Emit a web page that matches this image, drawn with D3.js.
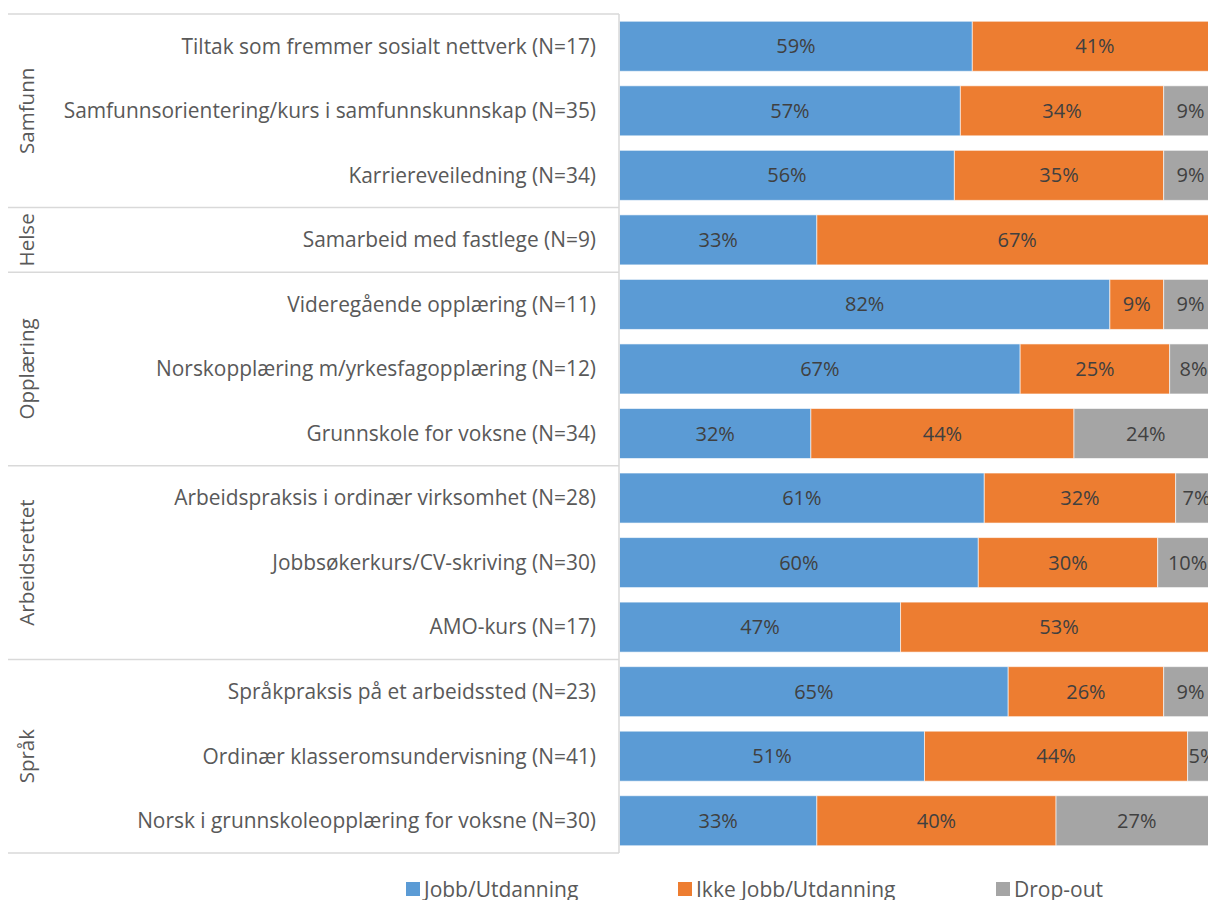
<!DOCTYPE html>
<html>
<head>
<meta charset="utf-8">
<script src="https://cdn.jsdelivr.net/npm/d3@7"></script>
<style>
  html, body { margin: 0; padding: 0; background: #fff; }
  svg { display: block; font-family: "Open Sans", "Noto Sans", sans-serif; }
</style>
</head>
<body>
<svg id="chart" width="1208" height="900"></svg>
<script>
const categories = [
  "Tiltak som fremmer sosialt nettverk (N=17)",
  "Samfunnsorientering/kurs i samfunnskunnskap (N=35)",
  "Karriereveiledning (N=34)",
  "Samarbeid med fastlege (N=9)",
  "Videregående opplæring (N=11)",
  "Norskopplæring m/yrkesfagopplæring (N=12)",
  "Grunnskole for voksne (N=34)",
  "Arbeidspraksis i ordinær virksomhet (N=28)",
  "Jobbsøkerkurs/CV-skriving (N=30)",
  "AMO-kurs (N=17)",
  "Språkpraksis på et arbeidssted (N=23)",
  "Ordinær klasseromsundervisning (N=41)",
  "Norsk i grunnskoleopplæring for voksne (N=30)"
];
const groups = ["Samfunn", "Helse", "Opplæring", "Arbeidsrettet", "Språk"];
const groupSizes = [3, 1, 3, 3, 3];
const seriesNames = ["Jobb/Utdanning", "Ikke Jobb/Utdanning", "Drop-out"];
const jobb =     [59, 57, 56, 33, 82, 67, 32, 61, 60, 47, 65, 51, 33];
const ikkeJobb = [41, 34, 35, 67,  9, 25, 44, 32, 30, 53, 26, 44, 40];
const dropOut =  [ 0,  9,  9,  0,  9,  8, 24,  7, 10,  0,  9,  5, 27];
const colors = ["#5B9BD5", "#ED7D31", "#A5A5A5"];

(function () {
const svg = d3.select("#chart");
const plotTop = 14, plotBottom = 853, plotLeft = 619;
const y = d3.scaleBand().domain(categories).range([plotTop, plotBottom])
  .paddingInner(0.225).paddingOuter(0.1125);
const x = d3.scaleLinear().domain([0, 100]).range([plotLeft + 0.5, plotLeft + 598.5]);

const rows = categories.map((c, i) => ({ c, vals: [jobb[i], ikkeJobb[i], dropOut[i]] }));
const stack = d3.stack().keys([0, 1, 2]).value((d, k) => d.vals[k]);
const stacked = stack(rows);

const layers = svg.append("g").selectAll("g").data(stacked).join("g")
  .attr("fill", (d, i) => colors[i]);
layers.selectAll("rect").data(d => d.filter(p => p[1] > p[0])).join("rect")
  .attr("x", p => x(p[0]))
  .attr("y", p => y(p.data.c))
  .attr("width", p => x(p[1]) - x(p[0]))
  .attr("height", y.bandwidth())
  .attr("stroke", "rgba(255,255,255,0.6)")
  .attr("stroke-width", 1);

// value labels
const labels = svg.append("g").attr("font-size", 20).attr("fill", "#404040").attr("text-anchor", "middle");
stacked.forEach(layer => {
  layer.forEach(p => {
    if (p[1] > p[0]) {
      labels.append("text")
        .attr("x", (x(p[0]) + x(p[1])) / 2)
        .attr("y", y(p.data.c) + y.bandwidth() / 2)
        .attr("dy", "0.35em")
        .text((p[1] - p[0]) + "%");
    }
  });
});

// category labels
svg.append("g").selectAll("text").data(categories).join("text")
  .attr("x", 596)
  .attr("y", d => y(d) + y.bandwidth() / 2)
  .attr("dy", "0.35em")
  .attr("text-anchor", "end")
  .attr("font-size", 20.9)
  .attr("fill", "#595959")
  .text(d => d);

// grid lines
const lineColor = "#D9D9D9";
const bounds = [0];
groupSizes.forEach((s, i) => bounds.push(bounds[i] + s));
const step = y.step();
const boundY = b => plotTop + b * step;
svg.append("g").selectAll("line").data(bounds).join("line")
  .attr("x1", 8).attr("x2", plotLeft)
  .attr("y1", b => boundY(b)).attr("y2", b => boundY(b))
  .attr("stroke", lineColor).attr("stroke-width", 1.5);
svg.append("line")
  .attr("x1", plotLeft).attr("x2", plotLeft).attr("y1", plotTop).attr("y2", plotBottom)
  .attr("stroke", lineColor).attr("stroke-width", 1.5);

// group labels
svg.append("g").selectAll("text").data(groups).join("text")
  .attr("transform", (g, i) => {
    const cy = (boundY(bounds[i]) + boundY(bounds[i + 1])) / 2;
    return `translate(27,${cy}) rotate(-90)`;
  })
  .attr("dy", "0.35em")
  .attr("text-anchor", "middle")
  .attr("font-size", 20.5)
  .attr("fill", "#595959")
  .text(d => d);

// legend
const legendX = [406, 678, 996];
const lg = svg.append("g").selectAll("g").data(seriesNames).join("g")
  .attr("transform", (d, i) => `translate(${legendX[i]},882)`);
lg.append("rect").attr("width", 14).attr("height", 14).attr("fill", (d, i) => colors[i]);
lg.append("text").attr("x", 18).attr("y", 7).attr("dy", "0.38em")
  .attr("font-size", 21).attr("fill", "#595959").text(d => d);
})();
</script>
</body>
</html>
